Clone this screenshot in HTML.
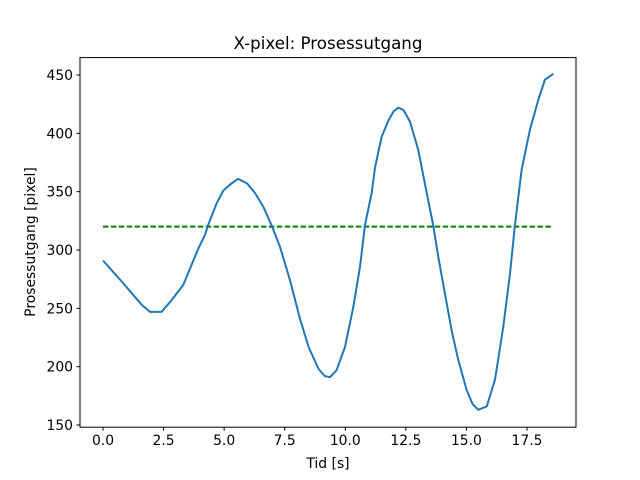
<!DOCTYPE html>
<html><head><meta charset="utf-8"><style>
body{margin:0;background:#fff;}
svg{display:block;font-family:"DejaVu Sans","Liberation Sans",sans-serif;}
</style></head><body>
<svg id="chart" width="640" height="480" xmlns="http://www.w3.org/2000/svg">
<rect width="640" height="480" fill="#fff"/>
<text x="328" y="49" text-anchor="middle" font-size="16.7">X-pixel: Prosessutgang</text>
<g id="plot"></g>
<rect x="80" y="57.6" width="496" height="369.6" fill="none" stroke="#000" stroke-width="1"/>
<text x="328" y="468" text-anchor="middle" font-size="13.9">Tid [s]</text>
<text transform="translate(35,242) rotate(-90)" text-anchor="middle" font-size="13.9">Prosessutgang [pixel]</text>
</svg>
<script>
const times=[0,0.77,1.6,1.94,2.42,2.83,3.31,3.93,4.21,4.35,4.69,4.97,5.3,5.58,5.95,6.27,6.62,6.96,7.3,7.72,8.13,8.5,8.9,9.15,9.37,9.64,9.99,10.33,10.61,10.81,11.09,11.23,11.5,11.78,12.0,12.19,12.4,12.67,13.01,13.36,13.63,13.84,14.11,14.39,14.66,15.01,15.25,15.49,15.84,16.18,16.52,16.8,17.0,17.28,17.62,17.97,18.24,18.59];
const output=[291,273,253,247,247,257,270,301,313,322,340,351,357,361,357,349,337,321,303,274,241,216,198,192,191,197,217,251,286,321,349,371,397,411,419,422,420,410,386,349,321,294,263,231,206,180,168,163,166,189,234,280,321,369,403,429,446,451];
const setpoint=[320,320];
const setpointTimes=[0,18.59];
const xTicks=[0,2.5,5,7.5,10,12.5,15,17.5];
const xTickLabels=["0.0","2.5","5.0","7.5","10.0","12.5","15.0","17.5"];
const yTicks=[150,200,250,300,350,400,450];
const yTickLabels=["150","200","250","300","350","400","450"];

const NS="http://www.w3.org/2000/svg";
const g=document.getElementById('plot');
const xs=t=>103+t*(527-103)/17.5;
const ys=v=>75+(450-v)*(425-75)/300;
function el(tag,attrs){const e=document.createElementNS(NS,tag);for(const k in attrs)e.setAttribute(k,attrs[k]);g.appendChild(e);return e;}
xTicks.forEach((t,i)=>{
  const l=el('line',{x1:xs(t),x2:xs(t),y1:427.2,y2:430.7,stroke:'#000'});
  
  
  const tx=el('text',{x:xs(t),y:445,'text-anchor':'middle','font-size':'13.9'});
  tx.textContent=xTickLabels[i];
  
  
});
yTicks.forEach((v,i)=>{
  const l=el('line',{x1:76.5,x2:80,y1:ys(v),y2:ys(v),stroke:'#000'});
  
  
  const tx=el('text',{x:73,y:ys(v)+5,'text-anchor':'end','font-size':'13.9'});
  tx.textContent=yTickLabels[i];
  
  
});
const sp=el('polyline',{points:setpointTimes.map((t,i)=>xs(t)+','+ys(setpoint[i])).join(' '),fill:'none',stroke:'#008000','stroke-width':2,'stroke-dasharray':'5.5,2.4'});


const line=el('polyline',{points:times.map((t,i)=>xs(t)+','+ys(output[i])).join(' '),fill:'none',stroke:'#1f77b4','stroke-width':2,'stroke-linejoin':'round'});


</script>
</body></html>
